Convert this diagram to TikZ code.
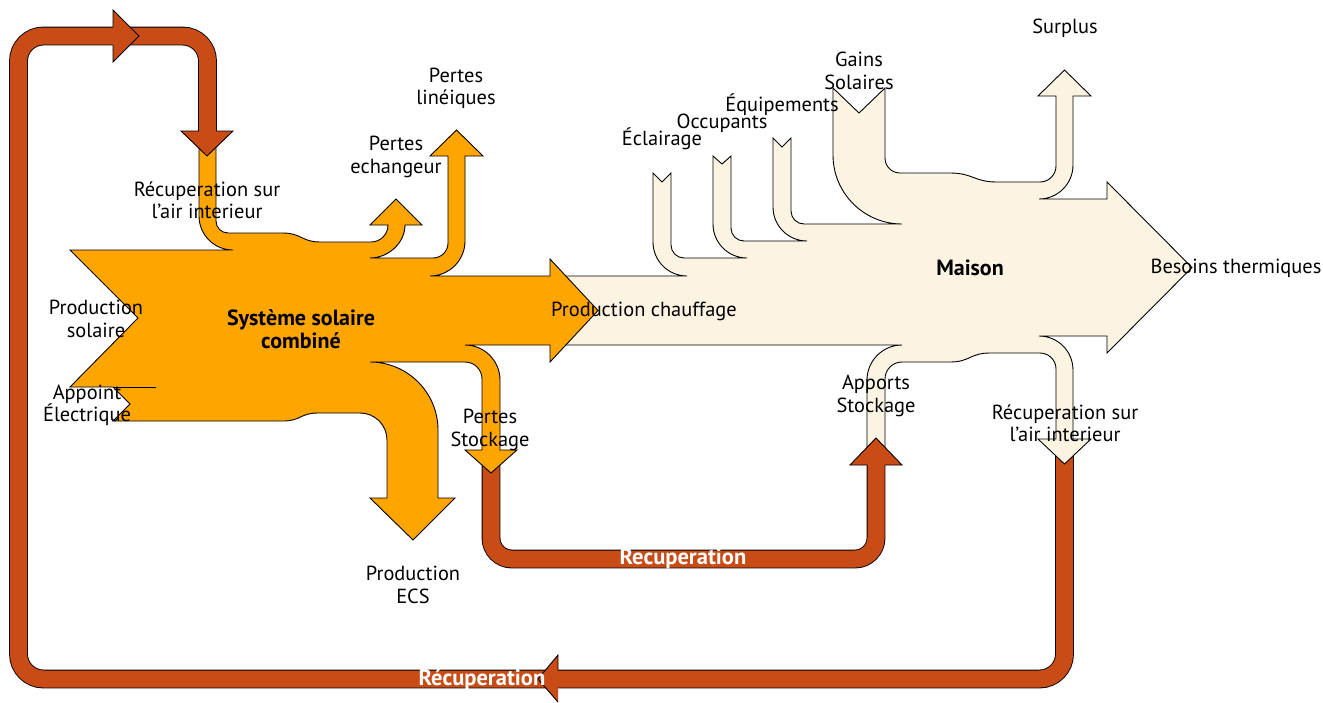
\documentclass[tikz,border=0pt]{standalone}
\usepackage{fontspec}
\setmainfont{PT Sans}
\definecolor{orng}{HTML}{FFA500}
\definecolor{rust}{HTML}{C94C17}
\definecolor{cream}{HTML}{FCF4E2}
\tikzset{
  shapeline/.style={draw=black, line width=0.9pt, line join=miter},
  bandedge/.style={draw=black, line width=18.8pt, line cap=butt},
  bandfill/.style={draw=rust, line width=17pt, line cap=butt},
  lbl/.style={font=\fontsize{20.4}{22.3}\selectfont, align=center, inner sep=0pt, text=black},
  blbl/.style={lbl, font=\fontsize{22}{23.5}\selectfont\bfseries},
  wlbl/.style={lbl, font=\fontsize{22.5}{24}\selectfont\bfseries, text=white}
}
\begin{document}
\begin{tikzpicture}[x=1pt,y=-1pt]
\useasboundingbox (0,0) rectangle (1323,702);

% ---- outer recuperation loop (band) ----
\draw[bandedge, rounded corners=25pt] (1064.5,455) -- (1064.5,679) -- (18.5,679) -- (18.5,36) -- (207.5,36) -- (207.5,140);
\draw[bandfill, rounded corners=25pt] (1064.5,455) -- (1064.5,679) -- (18.5,679) -- (18.5,36) -- (207.5,36) -- (207.5,140);

% ---- Maison (cream) ----
\filldraw[fill=cream, shapeline]
 (560,276) -- (687,276)
 .. controls (668.2,276) and (653,260.8) .. (653,242)
 -- (653,173) -- (662,182) -- (671,173) -- (671,245)
 .. controls (671,252.2) and (676.8,258) .. (684,258)
 -- (747,258)
 .. controls (728.2,258) and (713,242.8) .. (713,224)
 -- (713,156) -- (722,164) -- (731,156) -- (731,228)
 .. controls (731,235.2) and (736.8,241) .. (744,241)
 -- (807,241)
 .. controls (788.2,241) and (773,225.8) .. (773,207)
 -- (773,138) -- (782,147) -- (791,138) -- (791,211)
 .. controls (791,218.2) and (796.8,224) .. (804,224)
 -- (902,224)
 .. controls (863.9,224) and (833,193.1) .. (833,155)
 -- (833,88) -- (859,113) -- (885,88) -- (885,158)
 .. controls (885,166.3) and (891.7,173) .. (900,173)
 -- (950,173)
 .. controls (973,173) and (974,182) .. (997,182)
 -- (1040,182)
 .. controls (1048.8,182) and (1056,174.8) .. (1056,166)
 -- (1056,96) -- (1038,96) -- (1064.5,70) -- (1091,96) -- (1073,96) -- (1073,165)
 .. controls (1073,183.8) and (1057.8,199) .. (1039,199)
 -- (1107,199) -- (1107,182) -- (1192,267.5) -- (1107,353) -- (1107,336) -- (1039,336)
 .. controls (1057.8,336) and (1073,351.2) .. (1073,370)
 -- (1073,439) -- (1091,439) -- (1064.5,464) -- (1038,439) -- (1056,439) -- (1056,369)
 .. controls (1056,360.2) and (1048.8,353) .. (1040,353)
 -- (990,353)
 .. controls (970,353) and (970,362) .. (950,362)
 -- (902,362)
 .. controls (892.6,362) and (885,369.6) .. (885,379)
 -- (885,455) -- (867,455) -- (867,380)
 .. controls (867,360.7) and (882.7,345) .. (902,345)
 -- (560,345) -- cycle;

% ---- lower recuperation loop ----
\draw[bandedge, rounded corners=21pt] (491,462) -- (491,559) -- (876,559) -- (876,458);
\draw[bandfill, rounded corners=21pt] (491,462) -- (491,559) -- (876,559) -- (876,458);
\fill[rust] (850,465) -- (876,438) -- (902,465) -- cycle;
\draw[shapeline] (867,465) -- (850,465) -- (876,438) -- (902,465) -- (885,465);

% ---- Systeme solaire combine (orange) ----
\filldraw[fill=orng, shapeline]
 (70,250) -- (233,250)
 .. controls (214.2,250) and (199,234.8) .. (199,216)
 -- (199,140) -- (216,140) -- (216,221)
 .. controls (216,227.6) and (221.4,233) .. (228,233)
 -- (283,233)
 .. controls (301,233) and (302,242) .. (320,242)
 -- (371,242)
 .. controls (380.4,242) and (388,234.4) .. (388,225)
 -- (370,225) -- (396,199) -- (422,225) -- (405,225)
 .. controls (405,243.2) and (388.2,258) .. (370,258)
 -- (433,258)
 .. controls (441.3,258) and (448,251.3) .. (448,243)
 -- (448,156) -- (430,156) -- (456.5,130) -- (483,156) -- (465,156) -- (465,241)
 .. controls (465,260.3) and (449.3,276) .. (430,276)
 -- (550,276) -- (550,259) -- (598,310.5) -- (550,362) -- (550,345) -- (465,345)
 .. controls (484.3,345) and (500,360.7) .. (500,380)
 -- (500,450) -- (517,450) -- (491,473) -- (465,450) -- (482,450) -- (482,379)
 .. controls (482,369.6) and (474.4,362) .. (465,362)
 -- (370,362)
 .. controls (407.5,362) and (438,392.5) .. (438,430)
 -- (438,498) -- (455,498) -- (413,540) -- (370,498) -- (387,498) -- (387,440)
 .. controls (387,425) and (375,413) .. (360,413)
 -- (318,413)
 .. controls (300,413) and (301,421) .. (283,421)
 -- (113,421) -- (130,404) -- (113,387) -- (70,387) -- (138,318) -- cycle;
\draw[shapeline] (113,387) -- (156,387);

% ---- arrowheads on the outer loop ----
\fill[rust] (181,131) -- (207,156) -- (233,131) -- cycle;
\draw[shapeline] (199,131) -- (181,131) -- (207,156) -- (233,131) -- (216,131);
\fill[rust] (113,10) -- (139,36) -- (113,62) -- cycle;
\draw[shapeline] (113,27) -- (113,10) -- (139,36) -- (113,62) -- (113,45);
\fill[rust] (558,655) -- (538,679) -- (558,702) -- cycle;
\draw[shapeline] (558,670) -- (558,655) -- (538,679) -- (558,702);

% ---- labels ----
\node[lbl] (lin) at (456,88) {Pertes\\linéiques};
\node[lbl] (ech) at (396,157) {Pertes\\echangeur};
\node[lbl] (recA) at (207,200) {Récuperation sur\\l’air interieur};
\node[lbl] (psol) at (96,319) {Production\\solaire};
\node[lbl] (app) at (87,405) {Appoint\\Électrique};
\node[blbl] (ssc) at (301,329) {Système solaire\\combiné};
\node[lbl] (pch) at (644,311) {Production chauffage};
\node[lbl] (pst) at (490,430) {Pertes\\Stockage};
\node[lbl] (ecs) at (413,585) {Production\\ECS};
\node[lbl] (ast) at (876,396) {Apports\\Stockage};
\node[lbl] (recB) at (1065,423) {Récuperation sur\\l’air interieur};
\node[lbl] (bes) at (1236,268) {Besoins thermiques};
\node[blbl] (mai) at (970,268) {Maison};
\node[lbl] (sur) at (1065,28) {Surplus};
\node[lbl] (gai) at (859,71) {Gains\\Solaires};
\node[lbl] (equ) at (782,105) {Équipements};
\node[lbl] (occ) at (722,123) {Occupants};
\node[lbl] (ecl) at (662,139) {Éclairage};
\node[wlbl] (rc1) at (683,559) {Recuperation};
\node[wlbl] (rc2) at (482,680) {Récuperation};
\end{tikzpicture}
\end{document}
